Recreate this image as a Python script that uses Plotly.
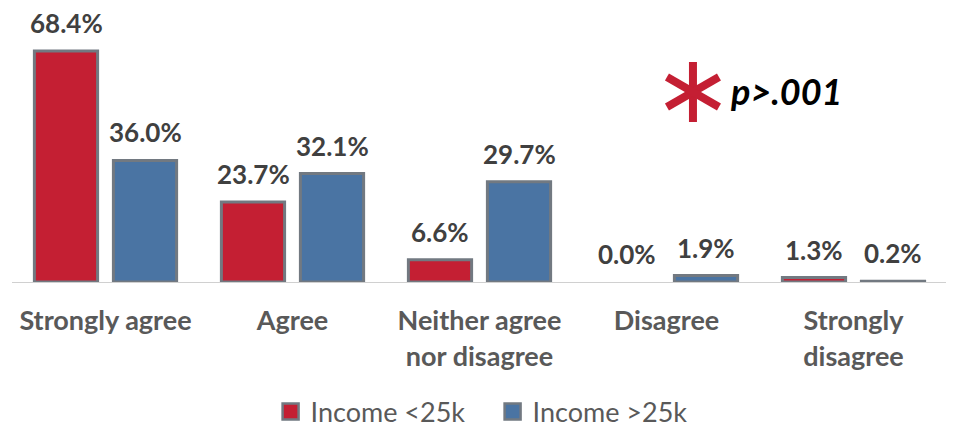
import plotly.graph_objects as go

categories = ["Strongly agree", "Agree", "Neither agree<br>nor disagree", "Disagree", "Strongly<br>disagree"]
low_income = [68.4, 23.7, 6.6, 0.0, 1.3]
high_income = [36.0, 32.1, 29.7, 1.9, 0.2]
series_names = ["Income <25k", "Income >25k"]

RED = "#C41F33"
BLUE = "#4A74A3"
EDGE = "#727981"
TEXT = "#404040"
FONT = "Lato"

fig = go.Figure()
for vals, name, col in ((low_income, series_names[0], RED), (high_income, series_names[1], BLUE)):
    fig.add_trace(go.Bar(x=categories, y=vals, name=name, showlegend=False, legendgroup=name,
                         marker=dict(color=col,
                                     line=dict(color=EDGE, width=[3 if v > 0 else 0 for v in vals]))))
# legend-only swatches (larger squares, as in the reference legend)
for name, col in ((series_names[0], RED), (series_names[1], BLUE)):
    fig.add_trace(go.Scatter(x=[None], y=[None], mode="markers", name=name, legendgroup=name,
                             marker=dict(symbol="square", size=16, color=col,
                                         line=dict(color=EDGE, width=2.5))))

annotations = []
for vals, shift in ((low_income, -39.5), (high_income, 39.5)):
    for c, v in zip(categories, vals):
        annotations.append(dict(x=c, y=v, xref="x", yref="y", xshift=shift, yshift=28,
                                text=f"{v:.1f}%", showarrow=False, yanchor="middle",
                                font=dict(family=FONT, size=26, color=TEXT, weight="bold")))
annotations.append(dict(x=0.766, y=0.73, xref="paper", yref="paper", xanchor="left", yanchor="middle",
                        text="p>.001", showarrow=False,
                        font=dict(family=FONT, size=36, color="black", weight="bold", style="italic")))

ax, ay = 0.7283, 0.7252
shapes = []
for (dx, dy) in ((0, 30), (26, 15), (26, -15)):
    shapes.append(dict(type="line", xref="paper", yref="paper", xsizemode="pixel", ysizemode="pixel",
                       xanchor=ax, yanchor=ay, x0=-dx, x1=dx, y0=-dy, y1=dy,
                       line=dict(color=RED, width=8)))

fig.update_layout(
    width=954, height=428,
    margin=dict(l=4, r=15, t=12, b=154, autoexpand=False),
    paper_bgcolor="white", plot_bgcolor="white",
    barmode="group", bargap=0.155, bargroupgap=0.2,
    showlegend=True,
    legend=dict(orientation="h", x=0.514, xanchor="center", xref="paper",
                y=24 / 428, yanchor="middle", yref="container",
                entrywidth=177, entrywidthmode="pixels",
                font=dict(family=FONT, size=27, color="#595959")),
    annotations=annotations,
    shapes=shapes,
    xaxis=dict(range=[-0.5, 4.5], automargin=False, showline=True, linecolor="#D0D0D0", linewidth=1,
               showgrid=False, ticks="", ticklabelstandoff=15,
               tickfont=dict(family=FONT, size=27, color="#595959", weight="bold")),
    yaxis=dict(range=[0, 77.6], visible=False, showgrid=False, automargin=False),
)

fig.write_html("out.html")
